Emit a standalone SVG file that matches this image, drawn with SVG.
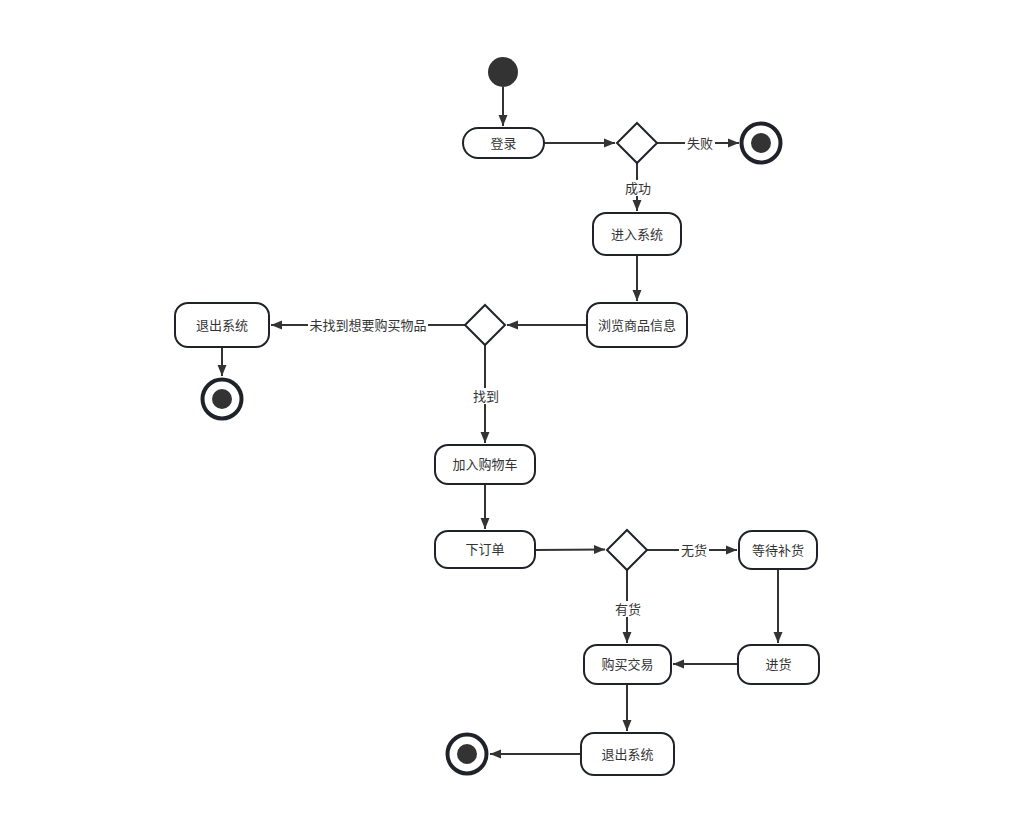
<svg xmlns="http://www.w3.org/2000/svg" width="1011" height="815" viewBox="0 0 1011 815">
<style>
.n{fill:#fff;stroke:#1f2329;stroke-width:2}
.t{font-family:"Noto Sans CJK SC","Liberation Sans",sans-serif;font-size:13px;fill:#333;text-anchor:middle;dominant-baseline:central}
.e{fill:none;stroke:#333;stroke-width:2}
.lb{fill:#fff}
.fo{fill:#fff;stroke:#1f2329;stroke-width:4}
.fi{fill:#333}
</style>
<defs>
<marker id="a" viewBox="0 0 11 10" refX="11" refY="5" markerWidth="11" markerHeight="10" markerUnits="userSpaceOnUse" orient="auto">
<path d="M0,0.5 L11,5 L0,9.5 Z" fill="#333"/>
</marker>
</defs>
<rect width="1011" height="815" fill="#fff"/>
<g id="edges">
<path class="e" d="M503,87 V126" marker-end="url(#a)"/>
<path class="e" d="M544,143 L615,143" marker-end="url(#a)"/>
<path class="e" d="M657,143 L739,143" marker-end="url(#a)"/>
<path class="e" d="M637,163 V211" marker-end="url(#a)"/>
<path class="e" d="M637,255 V301" marker-end="url(#a)"/>
<path class="e" d="M587,325 H507" marker-end="url(#a)"/>
<path class="e" d="M465,325 H271" marker-end="url(#a)"/>
<path class="e" d="M222,347 V376" marker-end="url(#a)"/>
<path class="e" d="M485,345 V443" marker-end="url(#a)"/>
<path class="e" d="M485,484 V529" marker-end="url(#a)"/>
<path class="e" d="M535,550 L605,549.5" marker-end="url(#a)"/>
<path class="e" d="M647,550 H737" marker-end="url(#a)"/>
<path class="e" d="M778,569 V643" marker-end="url(#a)"/>
<path class="e" d="M738,664 H673" marker-end="url(#a)"/>
<path class="e" d="M627,570 V643" marker-end="url(#a)"/>
<path class="e" d="M627,684 V731" marker-end="url(#a)"/>
<path class="e" d="M581,754 H490" marker-end="url(#a)"/>
<rect class="lb" x="685" y="135" width="30" height="16"/>
<text class="t" x="700" y="142">失败</text>
<rect class="lb" x="623" y="180" width="30" height="16"/>
<text class="t" x="638" y="187">成功</text>
<rect class="lb" x="308" y="317" width="120" height="16"/>
<text class="t" x="368" y="324">未找到想要购买物品</text>
<rect class="lb" x="471" y="388" width="30" height="16"/>
<text class="t" x="486" y="395">找到</text>
<rect class="lb" x="679" y="542" width="30" height="16"/>
<text class="t" x="694" y="549">无货</text>
<rect class="lb" x="613" y="601" width="30" height="16"/>
<text class="t" x="628" y="608">有货</text>
</g>
<g id="start"><circle cx="503" cy="72" r="15" fill="#333"/></g>
<g id="login"><rect class="n" x="463" y="128" width="81" height="30" rx="15"/><text class="t" x="503.5" y="142">登录</text></g>
<g id="d1"><path class="n" d="M637,123 L657,143 L637,163 L617,143 Z"/></g>
<g id="end1"><circle class="fo" cx="761" cy="143" r="19.5"/><circle class="fi" cx="761" cy="143" r="10"/></g>
<g id="enter"><rect class="n" x="593" y="213" width="88" height="42" rx="13"/><text class="t" x="637" y="233">进入系统</text></g>
<g id="browse"><rect class="n" x="587" y="303" width="100" height="44" rx="13"/><text class="t" x="637" y="324">浏览商品信息</text></g>
<g id="d2"><path class="n" d="M485,305 L505,325 L485,345 L465,325 Z"/></g>
<g id="exit1"><rect class="n" x="175" y="303" width="94" height="44" rx="13"/><text class="t" x="222" y="324">退出系统</text></g>
<g id="end2"><circle class="fo" cx="222" cy="399" r="19.5"/><circle class="fi" cx="222" cy="399" r="10"/></g>
<g id="cart"><rect class="n" x="435" y="445" width="100" height="39" rx="13"/><text class="t" x="485" y="463.5">加入购物车</text></g>
<g id="order"><rect class="n" x="435" y="531" width="100" height="37" rx="13"/><text class="t" x="485" y="548.5">下订单</text></g>
<g id="d3"><path class="n" d="M627,530 L647,550 L627,570 L607,550 Z"/></g>
<g id="wait"><rect class="n" x="739" y="531" width="78" height="38" rx="13"/><text class="t" x="778" y="549">等待补货</text></g>
<g id="restock"><rect class="n" x="738" y="645" width="81" height="39" rx="13"/><text class="t" x="778.5" y="663.5">进货</text></g>
<g id="buy"><rect class="n" x="584" y="645" width="87" height="39" rx="13"/><text class="t" x="627.5" y="663.5">购买交易</text></g>
<g id="exit2"><rect class="n" x="581" y="733" width="93" height="42" rx="13"/><text class="t" x="627.5" y="753">退出系统</text></g>
<g id="end3"><circle class="fo" cx="467" cy="754" r="19.5"/><circle class="fi" cx="467" cy="754" r="10"/></g>
</svg>
